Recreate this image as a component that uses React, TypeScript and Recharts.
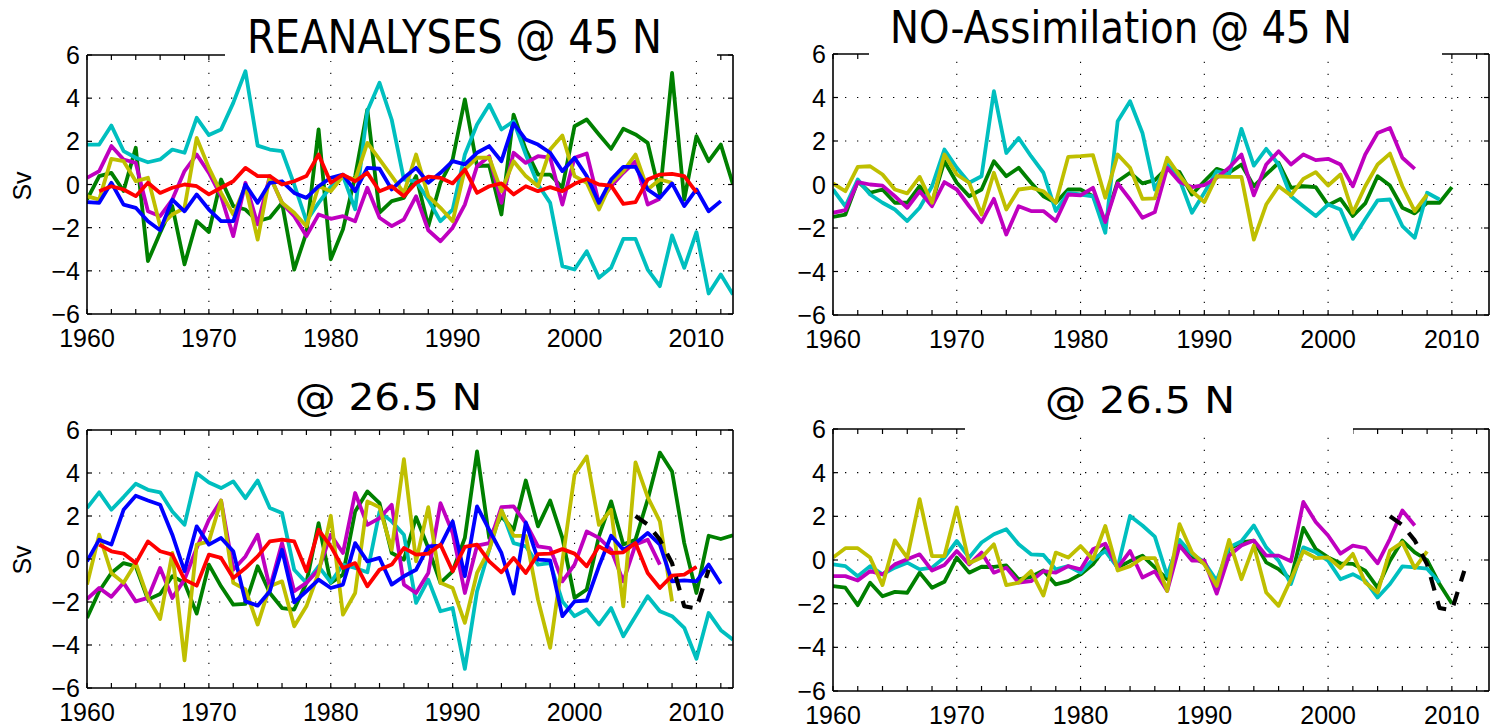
import React from "react";
import { LineChart, Line, XAxis, YAxis, ReferenceLine } from "recharts";

// MOC anomalies (Sv), one value per year
const FONT = "'Liberation Sans', Arial, Helvetica, sans-serif";
const TITLE_FONT = "'DejaVu Sans', Tahoma, Verdana, sans-serif";

const xTicks = [
  1960, 1962, 1964, 1966, 1968, 1970, 1972, 1974, 1976, 1978, 1980, 1982, 1984, 1986,
  1988, 1990, 1992, 1994, 1996, 1998, 2000, 2002, 2004, 2006, 2008, 2010, 2012,
];
const xLabelTicks = [1960, 1970, 1980, 1990, 2000, 2010];
const xGrid = [1970, 1980, 1990, 2000, 2010];
const yTicks = [-6, -4, -2, 0, 2, 4, 6];
const yGrid = [-4, -2, 0, 2, 4];

const COLORS = {
  green: "#008000",
  cyan: "#00bfbf",
  magenta: "#bf00bf",
  yellow: "#bfbf00",
  blue: "#0000ff",
  red: "#ff0000",
  black: "#000000",
};

// ---- reanalyses @ 45N ----
const rea45Green = [
  -0.7, 0.39, 0.54, -0.3, 1.7, -3.55, -2.24, -1.0, -3.7, -1.7,
  -2.2, 0.23, -1.0, -1.16, -1.7, -1.54, -0.85, -3.94, -2.24, 2.55,
  -3.47, -2.08, 0.39, 3.47, -1.3, -0.77, -0.62, 0.39, -1.93, 0.08,
  1.16, 3.94, 0.85, 0.88, -1.39, 3.24, 1.62, 0.46, 0.46, -0.15,
  2.7, 3.01, 2.32, 1.65, 2.58, 2.32, 1.93, -0.46, 5.17, -0.7,
  2.24, 1.08, 1.85, 0,
];
const rea45Cyan = [
  1.85, 1.85, 2.73, 1.55, 1.24, 1.03, 1.16, 1.62, 1.47, 3.09,
  2.29, 2.55, 3.78, 5.25, 1.8, 1.62, 1.55, 0.0, -1.7, -0.85,
  -0.1, 0.4, -1.15, 3.4, 4.71, 3.0, 0.23, 0.15, -0.7, -1.7,
  -1.16, 1.39, 2.78, 3.7, 2.55, 2.93, 1.39, 0, -0.85, -3.78,
  -3.94, -3.09, -4.32, -3.86, -2.52, -2.52, -3.94, -4.71, -2.36, -3.86,
  -2.21, -5.05, -4.17, -5.1,
];
const rea45Magenta = [
  0.31, 0.62, 1.78, 1.16, 1.0, -1.24, -1.47, -0.7, 0.62, 1.39,
  0.54, -0.54, -2.39, 0.08, -1.85, 0.39, -0.85, -1.47, -2.39, -1.39,
  -1.59, -1.47, -1.7, -0.15, -1.54, -1.93, -1.62, -0.54, -2.12, -2.63,
  -2.0, -0.93, 0.85, 1.31, -0.85, 1.47, 1.0, 1.31, 1.24, -0.93,
  1.24, 1.44, -0.85, -0.08, 0.54, 1.08, -0.93, -0.66,
];
const rea45Yellow = [
  -0.54, -0.7, 1.19, 1.08, 0.15, 0.31, -1.93, -1.39, -1.08, 2.16,
  0.77, -0.39, -1.39, -0.08, -2.55, 0.39, -0.85, -1.31, -1.93, -0.08,
  -0.31, 0.39, 0.23, 1.93, 1.16, 0.39, -0.39, 1.39, -0.54, -1.08,
  -1.7, 0.7, 1.24, 1.24, -0.31, 1.08, 0.39, -0.08, 1.62, 2.27,
  0.39, 0.08, -1.16, 0.08, 0.62, 1.39, -0.23, 0.23, 0.08,
];
const rea45Blue = [
  -0.82, -0.85, 0.08, -0.93, -1.08, -1.7, -2.12, -0.7, -1.24, -0.46,
  -1.16, -1.7, -1.7, 0, -0.85, 0.08, 0.15, -0.39, -0.62, -0.08,
  0.31, 0.46, -0.31, 0.77, 0.73, -0.23, 0.31, 0.77, 0.08, 0.54,
  1.08, 0.93, 1.47, 1.78, 1.08, 2.83, 2.08, 1.85, 1.47, 0.62,
  1.24, 0.39, -0.85, 0.23, 0.82, 0.82, -0.23, -0.62, 0.05, -1.0,
  -0.23, -1.24, -0.77,
];
// starts 1961
const rea45Red = [
  -0.31, -0.08, -0.23, -0.54, 0.08, -0.39, -0.15, 0, -0.08,
  -0.46, -0.15, 0.15, 0.77, 0.39, 0.39, 0, 0.15, 0.39, 1.39,
  0.08, 0.46, 0.15, 0.54, -0.31, -0.08, -0.54, 0.08, 0.36, 0.31,
  0.05, 0.7, -0.39, -0.08, 0.05, -0.46, -0.08, -0.31, -0.12, -0.31,
  0.03, 0.26, 0, -0.05, -0.9, -0.82, 0.23, 0.46, 0.49, 0.39,
  -0.36,
];

// ---- free runs (no assimilation) @ 45N ----
const noa45Green = [
  -1.49, -1.38, 0.15, -0.38, -0.23, -0.84, -0.84, -0.08, -0.84, 1.07,
  0.08, -0.54, -0.23, 1.07, 0.38, 0.77, 0.08, -0.54, -0.84, -0.23,
  -0.23, -0.54, -1.68, 0.15, 0.54, 0.05, 0.2, 0.77, 0.57, -0.46,
  0.15, 0.72, 0.54, 0.92, -0.08, 0.46, 1.0, -0.15, -0.08, -0.12,
  -0.95, -0.66, -1.45, -0.87, 0.38, -0.05, -1.07, -1.33, -0.84, -0.84,
  -0.12,
];
const noa45Cyan = [
  -0.23, -1.0, 0.23, -0.46, -0.84, -1.15, -1.68, -1.07, -0.08, 1.61,
  0.77, 0.08, 0.38, 4.29, 1.45, 2.14, 1.3, 0.54, -1.22, -0.38,
  -0.46, -0.54, -2.22, 2.91, 3.83, 2.37, -0.23, 0.92, 0.23, -1.3,
  -0.38, 0.61, 0.46, 2.56, 0.87, 1.64, 0.92, -0.54, -1.0, -1.45,
  -0.92, -1.15, -2.5, -1.6, -0.73, -0.69, -1.91, -2.45, -0.38, -0.69,
];
const noa45Magenta = [
  -1.3, -1.18, 0.11, 0, -0.05, -0.54, -1.07, -0.31, -1.0, 0.11,
  -0.23, -1.0, -1.73, -0.66, -2.3, -1.0, -1.22, -1.22, -1.68, -0.46,
  -0.5, -0.15, -1.73, 0.05, -0.69, -1.53, -1.27, 0.77, 0.11, -0.12,
  -0.03, 0.31, 0.77, 1.38, -0.5, 0.92, 1.53, 0.92, 1.38, 1.12,
  1.18, 0.92, -0.08, 1.38, 2.37, 2.6, 1.23, 0.72,
];
const noa45Yellow = [
  0.05, -0.31, 0.81, 0.84, 0.46, -0.23, -0.41, 0.35, -0.84, 1.38,
  0.46, 0.08, -1.38, 0.54, -1.15, -0.23, -0.15, -0.31, -0.84, 1.27,
  1.3, 1.35, -0.61, 1.38, 0.77, -0.66, -0.64, 1.23, 0.41, -0.31,
  -0.81, 0.38, 0.35, 0.35, -2.53, -0.92, -0.08, -0.5, 0.26, 0.57,
  -0.05, 0.46, -1.3, -0.08, 0.92, 1.42, -0.08, -1.22, -0.46,
];

// ---- reanalyses @ 26.5N ----
const rea26Green = [
  -2.74, -1.5, -0.65, -0.19, -0.34, -1.89, -1.63, -0.8, -1.11, -2.54,
  -0.26, -1.27, -2.12, -2.09, -0.34, -1.58, -2.28, -2.35, -1.11, 1.67,
  -1.11, -0.73, 2.21, 3.14, 2.6, 0.28, -0.03, 1.95, 0.51, -1.11,
  -0.57, 0.98, 5.0, 0.98, 1.98, 1.36, 3.65, 1.52, 2.72, 0.98,
  -1.81, -1.42, 1.05, 2.68, 0.67, 0.9, 2.76, 4.95, 4.07, 0.74,
  -1.58, 1.08, 0.93, 1.1,
];
const rea26Cyan = [
  2.37, 3.1, 2.29, 2.88, 3.5, 3.22, 3.1, 2.21, 1.59, 3.99,
  3.56, 3.3, 3.61, 2.83, 3.65, 2.37, 2.14, -0.5, -1.11, -0.34,
  -1.08, -0.26, -0.42, -0.62, 2.2, 1.75, 1.13, -2.04, -0.96, -2.43,
  -2.28, -5.11, -1.5, 0.43, 2.29, 0.74, 0.59, -0.26, -0.19, -1.97,
  -2.66, -2.35, -3.05, -2.28, -3.59, -2.66, -1.73, -2.43, -2.66, -3.2,
  -4.64, -2.51, -3.31, -3.75,
];
const rea26Magenta = [
  -1.86, -1.35, -1.76, -1.11, -1.97, -1.81, -0.42, -1.81, -0.96, 0.51,
  1.83, 2.72, -0.5, 0.12, 1.13, -1.35, 0.74, -1.5, -1.11, -0.5,
  1.13, 0.28, 3.07, 1.59, 1.9, 2.52, -1.19, -1.58, -0.65, 2.6,
  1.21, -1.58, 0.62, 0.74, 2.41, 2.45, 1.67, 0.59, 0.51, -1.04,
  -0.26, 1.28, 0.98, 0.43, -1.04, 0.67, 0.9, -0.26,
];
const rea26Yellow = [
  -1.19, 1.13, -0.65, -1.11, -0.19, -1.81, -2.79, 0.28, -4.71, 0.67,
  0.82, 2.72, -1.11, -1.42, -3.05, -1.27, -1.04, -3.13, -2.2, -0.65,
  2.01, -2.59, -1.58, 2.68, 2.41, 0.43, 4.64, -0.11, 2.41, -1.11,
  -1.35, -2.97, -0.65, 0.43, 2.26, 1.08, 1.08, -1.89, -4.13, -0.11,
  3.92, 4.77, 1.59, 2.29, -2.2, 4.49, 2.88, 1.75, -1.97,
];
const rea26Blue = [
  -0.11, 0.9, 0.67, 2.29, 2.94, 2.72, 2.52, 1.13, -0.57, 1.52,
  0.67, 0.98, 0.36, -1.97, -2.17, -1.5, 0.43, -2.01, -1.5, -0.96,
  -1.35, -1.19, 0.74, -0.11, 0.05, -1.19, -0.8, -0.5, 0.59, 0.62,
  1.75, -0.8, 2.45, 1.36, 0.28, -1.61, 1.7, -0.03, -0.06, -2.66,
  -1.97, -1.93, -0.34, 1.08, 0.43, 0.74, 1.21, 0.67, -1.04, -0.99,
  -1.04, -0.26, -1.15,
];
// starts 1961
const rea26Red = [
  0.67, 0.36, 0.25, -0.19, 0.82, 0.36, 0.2, -0.96, -1.24,
  0.2, 0.05, -0.88, -0.42, 0.12, 0.82, 0.9, 0.82, -0.57, 1.36,
  0.59, -0.42, -0.19, -1.27, -0.5, -0.26, 0.51, 0.2, 0.25, 0.67,
  -0.57, 0.56, 0.67, -0.11, -0.62, 0.05, -0.65, 0.23, 0.25, 0.46,
  0.25, -0.34, 0.59, 0.28, 0.31, 0.74, -0.65, -1.35, -0.77, -0.73,
  -0.37,
];
// RAPID array observations, 2005-2011
const rapid26 = [2.0, 1.6, 0.9, -0.2, -2.2, -2.3, -0.5];

// ---- free runs (no assimilation) @ 26.5N ----
const noa26Green = [
  -1.2, -1.27, -2.07, -1.04, -1.66, -1.46, -1.5, -0.58, -1.27, -1.0,
  0.11, -0.58, -0.31, -0.32, -0.25, -0.89, -0.77, -0.48, -1.12, -0.97,
  -0.66, -0.2, 0.57, -0.35, -0.05, 0.2, -0.34, -0.88, 0.81, 0.12,
  -0.15, -1.1, 0.5, 0.81, 0.89, -0.11, -0.42, -0.88, 1.47, 0.5,
  0.12, -0.15, -0.18, -0.49, -1.26, -0.03, 0.89, 0.35, 0, -1.1,
  -1.99,
];
const noa26Cyan = [
  -0.2, -0.28, -0.74, -0.28, -0.66, -0.35, -0.12, -0.43, -0.35, 0.11,
  0.87, 0.11, 0.8, 1.18, 1.41, 0.72, 0.26, 0.23, -0.43, -0.28,
  -0.58, 0.03, 0.41, -0.35, 2.02, 1.58, 1.07, -0.72, 0.92, 0.28,
  -0.11, -0.95, 0.58, 0.86, 1.58, 0.58, -0.03, -1.1, 0.58, 0.35,
  -0.03, -0.88, -0.65, -0.95, -1.72, -1.1, -0.29, -0.34, -0.4, -1.03,
];
const noa26Magenta = [
  -0.74, -0.74, -0.94, -0.51, -0.66, -0.2, 0.03, 0.26, -0.48, -0.23,
  0.41, -0.2, 0.34, -0.58, -0.35, -1.04, -0.97, -0.51, -0.58, -0.28,
  -0.43, 0.49, 0.75, -0.35, 0.41, -0.8, -0.52, -1.42, 0.66, -0.03,
  -0.03, -1.54, 0.2, 0.66, 0.89, 0.2, 0.2, -0.06, 2.66, 1.74,
  1.12, 0.29, 0.66, 0.55, -0.15, 0.97, 2.27, 1.58,
];
const noa26Yellow = [
  0.11, 0.54, 0.54, 0.11, -1.15, 0.9, 0.11, 2.79, 0.18, 0.18,
  2.41, -0.15, 0.11, 0.72, -1.15, -1.04, -0.51, -1.63, 0.34, 0.11,
  0.64, 0.03, 1.56, -0.48, -0.28, 0.09, 0.09, -1.42, 1.64, 0.35,
  -0.2, -1.18, 0.92, -0.88, 0.66, -1.49, -2.1, -0.88, 0.4, 0.09,
  0.12, -0.37, 0.28, -1.03, -1.49, 0.43, 0.81, -0.37, 0.4,
];

type Series = { key: string; start: number; values: number[]; color: string; dashed?: boolean };

const panels = [
  {
    id: "rea45",
    left: 0, top: 0, width: 760, height: 360,
    plot: { x0: 87, x1: 733, y0: 55, y1: 314 },
    series: [
      { key: "green", start: 1960, values: rea45Green, color: COLORS.green },
      { key: "cyan", start: 1960, values: rea45Cyan, color: COLORS.cyan },
      { key: "magenta", start: 1960, values: rea45Magenta, color: COLORS.magenta },
      { key: "yellow", start: 1960, values: rea45Yellow, color: COLORS.yellow },
      { key: "blue", start: 1960, values: rea45Blue, color: COLORS.blue },
      { key: "red", start: 1961, values: rea45Red, color: COLORS.red },
    ] as Series[],
  },
  {
    id: "noa45",
    left: 750, top: 0, width: 741, height: 360,
    plot: { x0: 833, x1: 1489, y0: 54, y1: 315 },
    series: [
      { key: "green", start: 1960, values: noa45Green, color: COLORS.green },
      { key: "cyan", start: 1960, values: noa45Cyan, color: COLORS.cyan },
      { key: "magenta", start: 1960, values: noa45Magenta, color: COLORS.magenta },
      { key: "yellow", start: 1960, values: noa45Yellow, color: COLORS.yellow },
    ] as Series[],
  },
  {
    id: "rea26",
    left: 0, top: 370, width: 760, height: 358,
    plot: { x0: 87, x1: 733, y0: 430, y1: 688 },
    series: [
      { key: "green", start: 1960, values: rea26Green, color: COLORS.green },
      { key: "cyan", start: 1960, values: rea26Cyan, color: COLORS.cyan },
      { key: "magenta", start: 1960, values: rea26Magenta, color: COLORS.magenta },
      { key: "yellow", start: 1960, values: rea26Yellow, color: COLORS.yellow },
      { key: "blue", start: 1960, values: rea26Blue, color: COLORS.blue },
      { key: "red", start: 1961, values: rea26Red, color: COLORS.red },
      { key: "rapid", start: 2005, values: rapid26, color: COLORS.black, dashed: true },
    ] as Series[],
  },
  {
    id: "noa26",
    left: 750, top: 370, width: 741, height: 358,
    plot: { x0: 833, x1: 1489, y0: 429, y1: 691 },
    series: [
      { key: "green", start: 1960, values: noa26Green, color: COLORS.green },
      { key: "cyan", start: 1960, values: noa26Cyan, color: COLORS.cyan },
      { key: "magenta", start: 1960, values: noa26Magenta, color: COLORS.magenta },
      { key: "yellow", start: 1960, values: noa26Yellow, color: COLORS.yellow },
      { key: "rapid", start: 2005, values: rapid26, color: COLORS.black, dashed: true },
    ] as Series[],
  },
];

function buildRows(series: Series[]) {
  const rows: any[] = [];
  for (let year = 1960; year <= 2013; year++) {
    const row: any = { year };
    series.forEach((s) => {
      const i = year - s.start;
      if (i >= 0 && i < s.values.length) row[s.key] = s.values[i];
    });
    rows.push(row);
  }
  return rows;
}

const minus = (v: number) => String(v).replace("-", "\u2212");

// MATLAB-style ticks: short marks pointing into the box, labels outside
const BottomTick = (props: any) => {
  const { x, y, payload } = props;
  const v = payload.value;
  return (
    <g>
      <line x1={x} x2={x} y1={y} y2={y - 5} stroke="#000" strokeWidth={1.2} />
      {xLabelTicks.includes(v) && (
        <text x={x} y={y + 33} textAnchor="middle" fontSize={25} fontFamily={FONT} fill="#000">
          {v}
        </text>
      )}
    </g>
  );
};

const TopTick = (props: any) => {
  const { x, y } = props;
  return <line x1={x} x2={x} y1={y} y2={y + 5} stroke="#000" strokeWidth={1.2} />;
};

const LeftTick = (props: any) => {
  const { x, y, payload } = props;
  return (
    <g>
      <line x1={x} x2={x + 5} y1={y} y2={y} stroke="#000" strokeWidth={1.2} />
      <text x={x - 7} y={y} dy="0.36em" textAnchor="end" fontSize={25} fontFamily={FONT} fill="#000">
        {minus(payload.value)}
      </text>
    </g>
  );
};

const RightTick = (props: any) => {
  const { x, y } = props;
  return <line x1={x} x2={x - 5} y1={y} y2={y} stroke="#000" strokeWidth={1.2} />;
};

const axisLine = { stroke: "#000", strokeWidth: 1.6 };

function Panel({ p }: { p: (typeof panels)[number] }) {
  const rows = buildRows(p.series);
  const topH = 5;
  const margin = { top: p.plot.y0 - p.top - topH, right: 0, bottom: 0, left: 0 };
  return (
    <div style={{ position: "absolute", left: p.left, top: p.top }}>
      <LineChart width={p.width} height={p.height} data={rows} margin={margin}>
        <XAxis
          xAxisId="b"
          dataKey="year"
          type="number"
          domain={[1960, 2013]}
          allowDataOverflow
          ticks={xTicks}
          interval={0}
          orientation="bottom"
          height={p.top + p.height - p.plot.y1}
          tickSize={0}
          tickMargin={0}
          tickLine={false}
          axisLine={axisLine}
          tick={<BottomTick />}
        />
        <XAxis
          xAxisId="t"
          dataKey="year"
          type="number"
          domain={[1960, 2013]}
          allowDataOverflow
          ticks={xTicks}
          interval={0}
          orientation="top"
          height={topH}
          tickSize={0}
          tickMargin={0}
          tickLine={false}
          axisLine={axisLine}
          tick={<TopTick />}
        />
        <YAxis
          yAxisId="l"
          type="number"
          domain={[-6, 6]}
          allowDataOverflow
          ticks={yTicks}
          interval={0}
          orientation="left"
          width={p.plot.x0 - p.left}
          tickSize={0}
          tickMargin={0}
          tickLine={false}
          axisLine={axisLine}
          tick={<LeftTick />}
        />
        <YAxis
          yAxisId="r"
          type="number"
          domain={[-6, 6]}
          allowDataOverflow
          ticks={yTicks}
          interval={0}
          orientation="right"
          width={p.left + p.width - p.plot.x1}
          tickSize={0}
          tickMargin={0}
          tickLine={false}
          axisLine={axisLine}
          tick={<RightTick />}
        />
        {xGrid.map((g) => (
          <ReferenceLine
            key={`gx${g}`}
            xAxisId="b"
            yAxisId="l"
            x={g}
            stroke="#000"
            strokeWidth={1.1}
            strokeDasharray="1.3 10.7"
          />
        ))}
        {yGrid.map((g) => (
          <ReferenceLine
            key={`gy${g}`}
            xAxisId="b"
            yAxisId="l"
            y={g}
            stroke="#000"
            strokeWidth={1.1}
            strokeDasharray="1.3 10.7"
          />
        ))}
        {p.series.map((s) => (
          <Line
            key={s.key}
            xAxisId="b"
            yAxisId="l"
            type="linear"
            dataKey={s.key}
            stroke={s.color}
            strokeWidth={s.dashed ? 4.2 : 3.8}
            strokeDasharray={s.dashed ? "14 11" : undefined}
            strokeLinejoin="round"
            dot={false}
            activeDot={false}
            connectNulls={false}
            isAnimationActive={false}
          />
        ))}
      </LineChart>
    </div>
  );
}

export default function App() {
  return (
    <div
      style={{
        position: "absolute",
        left: 0,
        top: 0,
        width: 1491,
        height: 728,
        background: "#fff",
        overflow: "hidden",
      }}
    >
      {panels.map((p) => (
        <Panel key={p.id} p={p} />
      ))}
      <svg
        width={1491}
        height={728}
        style={{ position: "absolute", left: 0, top: 0, pointerEvents: "none" }}
      >
        {/* title boxes sit on top of the upper frame */}
        <rect x={225} y={0} width={492} height={61} fill="#fff" />
        <rect x={869} y={0} width={573} height={61} fill="#fff" />
        <rect x={965} y={378} width={388} height={57} fill="#fff" />
        <text x={247} y={53} fontSize={46} fontFamily={TITLE_FONT} textLength={415} lengthAdjust="spacingAndGlyphs" fill="#000">
          REANALYSES @ 45 N
        </text>
        <text x={890} y={43} fontSize={45} fontFamily={TITLE_FONT} textLength={462} lengthAdjust="spacingAndGlyphs" fill="#000">
          NO-Assimilation @ 45 N
        </text>
        <text x={295} y={410} fontSize={37} fontFamily={TITLE_FONT} textLength={187} lengthAdjust="spacingAndGlyphs" fill="#000">
          @ 26.5 N
        </text>
        <text x={1045} y={413} fontSize={37} fontFamily={TITLE_FONT} textLength={190} lengthAdjust="spacingAndGlyphs" fill="#000">
          @ 26.5 N
        </text>
        <text x={22} y={186} fontSize={25} fontFamily={FONT} textAnchor="middle" dominantBaseline="central" transform="rotate(-90 22 186)" fill="#000">
          Sv
        </text>
        <text x={22} y={560} fontSize={25} fontFamily={FONT} textAnchor="middle" dominantBaseline="central" transform="rotate(-90 22 560)" fill="#000">
          Sv
        </text>
      </svg>
    </div>
  );
}
